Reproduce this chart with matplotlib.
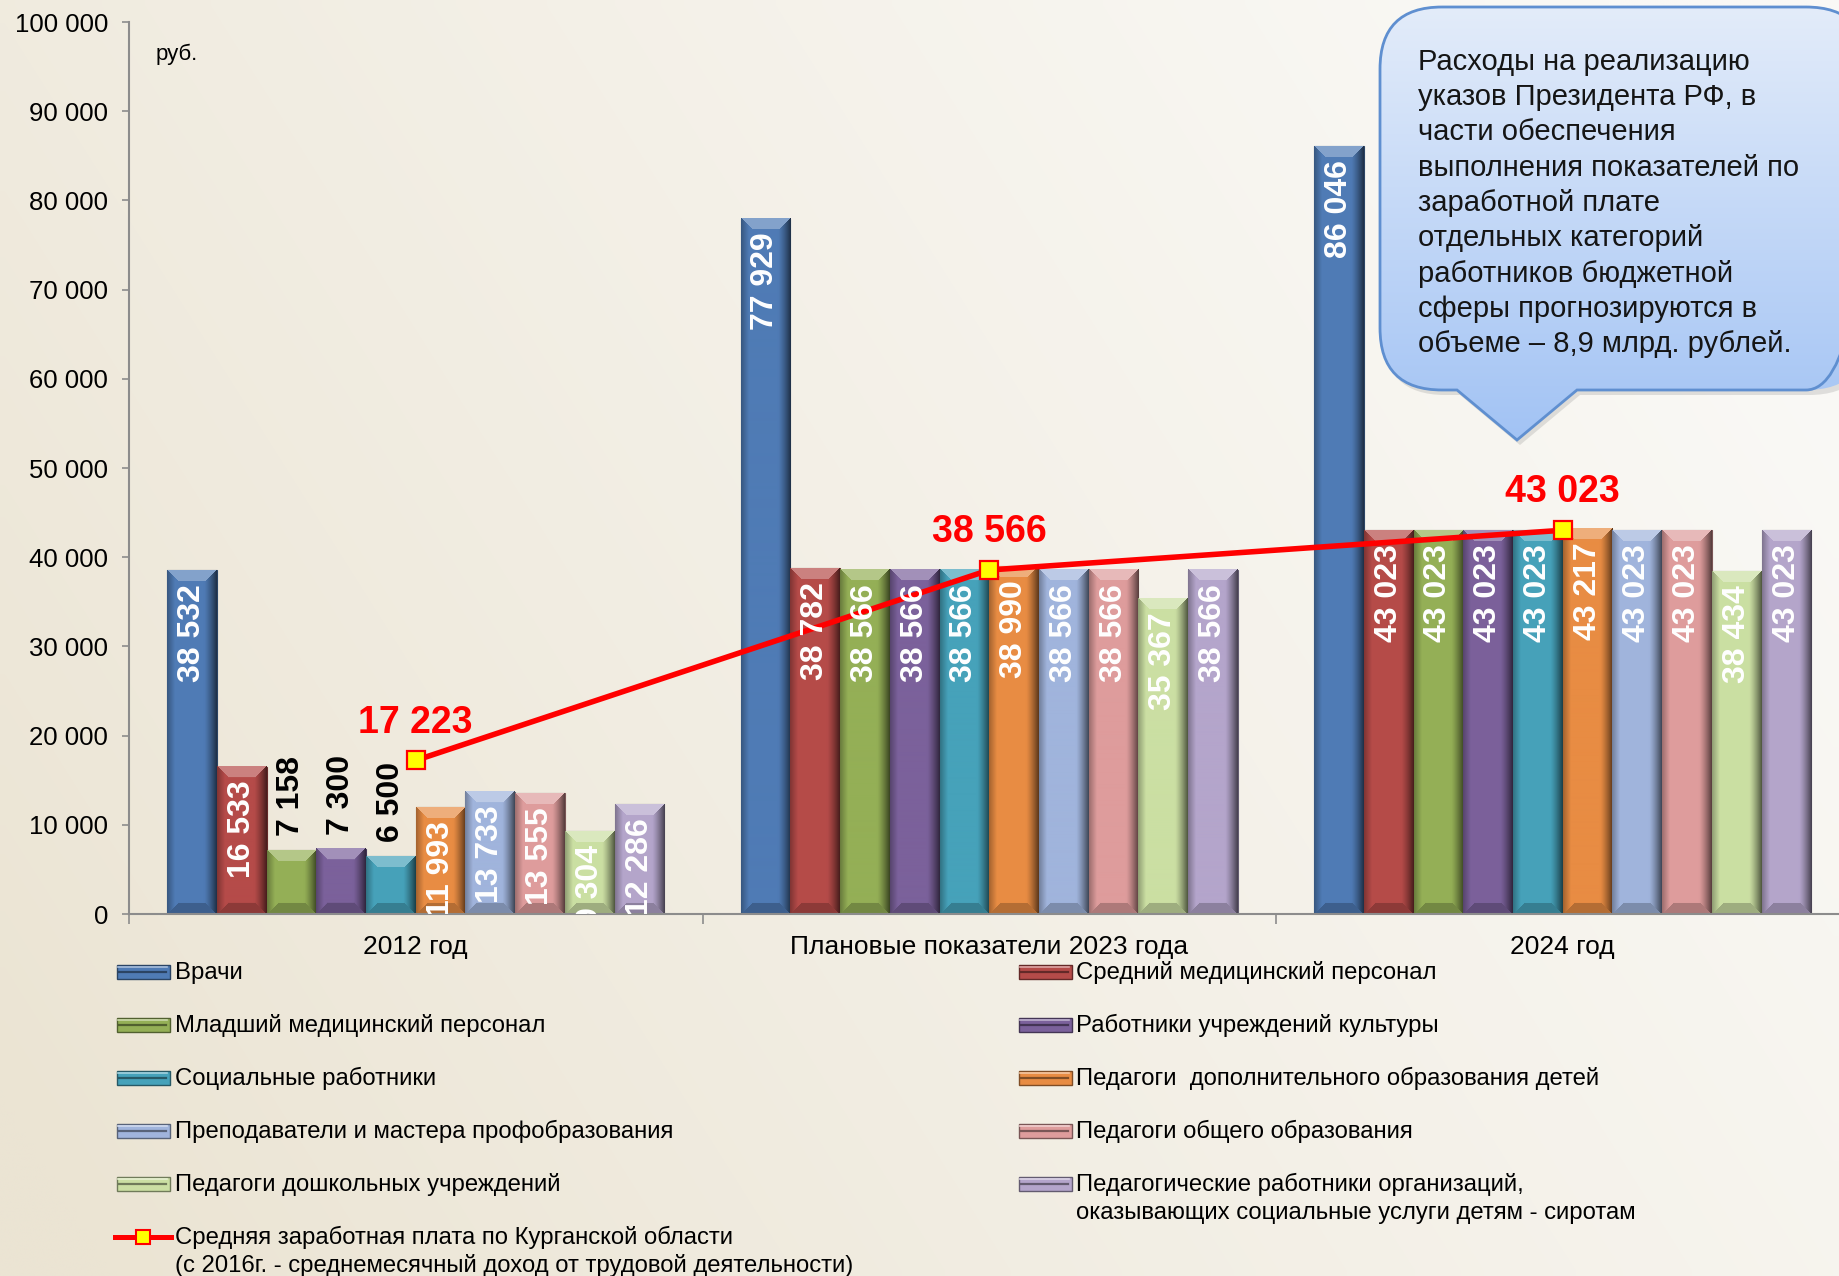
import numpy as np
import matplotlib
matplotlib.use('Agg')
import matplotlib.pyplot as plt
import matplotlib.colors as mcolors
import matplotlib.ticker as mticker
from matplotlib.patches import Rectangle, PathPatch
from matplotlib.path import Path
from matplotlib.lines import Line2D

plt.rcParams['font.family'] = ['Liberation Sans', 'DejaVu Sans']

# ---------------- data ----------------
groups = ['2012 год', 'Плановые показатели 2023 года', '2024 год']
series_names = [
    'Врачи',
    'Средний медицинский персонал',
    'Младший медицинский персонал',
    'Работники учреждений культуры',
    'Социальные работники',
    'Педагоги  дополнительного образования детей',
    'Преподаватели и мастера профобразования',
    'Педагоги общего образования',
    'Педагоги дошкольных учреждений',
    'Педагогические работники организаций,\nоказывающих социальные услуги детям - сиротам',
]
series_colors = ['#4F7BB5', '#B54B49', '#94AF56', '#7B619B', '#46A2BA',
                 '#E88C43', '#A0B4DC', '#DE9C9C', '#CBDFA3', '#B4A5CB']
values_2012 = [38532, 16533, 7158, 7300, 6500, 11993, 13733, 13555, 9304, 12286]
values_2023 = [77929, 38782, 38566, 38566, 38566, 38990, 38566, 38566, 35367, 38566]
values_2024 = [86046, 43023, 43023, 43023, 43023, 43217, 43023, 43023, 38434, 43023]
avg_salary = [17223, 38566, 43023]
avg_name = ('Средняя заработная плата по Курганской области\n'
            '(с 2016г. - среднемесячный доход от трудовой деятельности)')
outside_2012 = [2, 3, 4]          # series whose 2012 label sits above the bar
y_ticks = list(range(0, 100001, 10000))
unit_label = 'руб.'
callout_lines = [
    'Расходы на реализацию',
    'указов Президента РФ, в',
    'части обеспечения',
    'выполнения показателей по',
    'заработной плате',
    'отдельных категорий',
    'работников бюджетной',
    'сферы прогнозируются в',
    'объеме – 8,9 млрд. рублей.',
]

# ---------------- figure ----------------
W, H = 1839, 1276
fig = plt.figure(figsize=(W / 100, H / 100), dpi=100)

bg = fig.add_axes([0, 0, 1, 1], zorder=0)
gy, gx = np.mgrid[0:1:120j, 0:1:180j]
wgt = np.clip(0.8 * gx + 0.35 * (1 - gy) - 0.05, 0, 1) ** 0.9
c0 = np.array([235, 228, 211]) / 255
c1 = np.array([250, 249, 246]) / 255
bgimg = c0 * (1 - wgt[..., None]) + c1 * wgt[..., None]
bg.imshow(bgimg, extent=(0, W, H, 0), aspect='auto', interpolation='bilinear', zorder=0)
bg.set_xlim(0, W)
bg.set_ylim(H, 0)
bg.axis('off')

# main axes
AX_L, AX_B, AX_W, AX_H = 129, 362, 1720.5, 892
ax = fig.add_axes([AX_L / W, AX_B / H, AX_W / W, AX_H / H], zorder=2)
ax.patch.set_alpha(0)

n = len(series_names)
bw = 0.867 / n
x = np.arange(len(groups))
vals = np.array([values_2012, values_2023, values_2024])  # (groups, series)
PX_X = AX_W / 3.0
PX_Y = AX_H / 100000.0


def shade_bar(rect, color):
    x0, w, h = rect.get_x(), rect.get_width(), rect.get_height()
    if h <= 0:
        return
    wpx, hpx = w * PX_X, h * PX_Y
    cols = max(int(round(wpx)), 2)
    rows = max(int(round(hpx)), 2)
    U, V = np.meshgrid((np.arange(cols) + 0.5) * wpx / cols,
                       (np.arange(rows) + 0.5) * hpx / rows)
    base = np.array(mcolors.to_rgb(color))
    fu = U / wpx
    dark = np.where(fu < 0.16, 0.30 * (1 - fu / 0.16), 0.0)
    dark = dark + np.where(fu > 0.74, 0.62 * ((fu - 0.74) / 0.26) ** 1.3, 0.0)
    img = base[None, None, :] * (1 - dark[..., None])
    b = 11
    top = (V < b) & (U > V) & (wpx - U > V)
    img[top] = base + (1 - base) * 0.30
    bot = ((hpx - V) < b) & (U > (hpx - V)) & ((wpx - U) > (hpx - V))
    img[bot] = base * 0.78
    ax.imshow(img, extent=(x0, x0 + w, 0, h), origin='upper', aspect='auto',
              interpolation='bilinear', zorder=2.2)


def fmt(v):
    return f'{int(v):,}'.replace(',', ' ')


for i in range(n):
    offs = (i - (n - 1) / 2) * bw
    col = series_colors[i]
    edge = tuple(np.array(mcolors.to_rgb(col)) * 0.55)
    bars = ax.bar(x + offs, vals[:, i], width=bw, color=col, edgecolor=edge,
                  linewidth=0.8, zorder=2)
    for g, rect in enumerate(bars):
        shade_bar(rect, col)
        v = vals[g, i]
        xc = rect.get_x() + rect.get_width() / 2
        if g == 0 and i in outside_2012:
            ax.annotate(fmt(v), (xc, v), xytext=(0, 10), textcoords='offset points',
                        rotation=90, ha='center', va='bottom', color='black',
                        fontsize=23, fontweight='bold', zorder=6)
        else:
            ax.annotate(fmt(v), (xc, v), xytext=(0, -10), textcoords='offset points',
                        rotation=90, ha='center', va='top', color='white',
                        fontsize=23, fontweight='bold', zorder=6,
                        clip_on=True, annotation_clip=False)

ax.plot(x, avg_salary, color='#FF0000', lw=4.0, marker='s', ms=12.5,
        mfc='#FFFF00', mec='#FF0000', mew=1.6, zorder=5, solid_capstyle='butt')
for xi, v in zip(x, avg_salary):
    ax.annotate(fmt(v), (xi, v), xytext=(0, 20), textcoords='offset points',
                ha='center', va='baseline', color='#FF0000', fontsize=27,
                fontweight='bold', zorder=7)

ax.set_xlim(-0.5, 2.5)
ax.set_ylim(0, 100000)
ax.set_aspect('auto')
for s in ['top', 'right']:
    ax.spines[s].set_visible(False)
for s in ['left', 'bottom']:
    ax.spines[s].set_color('#8c8c8c')
    ax.spines[s].set_linewidth(1.5)
ax.set_yticks(y_ticks)
ax.yaxis.set_major_formatter(mticker.FuncFormatter(lambda v, p: fmt(v)))
ax.tick_params(axis='y', length=5, width=1.2, color='#8c8c8c', pad=10,
               labelsize=18.5, labelcolor='black')
ax.set_xticks(x)
ax.set_xticklabels(groups)
ax.set_xticks([-0.5, 0.5, 1.5, 2.5], minor=True)
ax.tick_params(axis='x', which='major', length=0, pad=15, labelsize=19)
ax.tick_params(axis='x', which='minor', length=7, width=1.2, color='#8c8c8c')

bg.text(156, 54, unit_label, fontsize=16, ha='left', va='center', color='black')

# ---------------- callout ----------------
L, T, R, B, r = 1380, 7, 1868, 390, 62
tip = (1517, 440)
pb0, pb1 = 1457, 1577
verts = [(L + r, T), (R - r, T), (R, T), (R, T + r), (R, B - r), (R, B), (R - r, B),
         (pb1, B), tip, (pb0, B), (L + r, B), (L, B), (L, B - r), (L, T + r), (L, T),
         (L + r, T), (L + r, T)]
codes = [Path.MOVETO, Path.LINETO, Path.CURVE3, Path.CURVE3, Path.LINETO, Path.CURVE3,
         Path.CURVE3, Path.LINETO, Path.LINETO, Path.LINETO, Path.LINETO, Path.CURVE3,
         Path.CURVE3, Path.LINETO, Path.CURVE3, Path.CURVE3, Path.CLOSEPOLY]
cpath = Path(verts, codes)
shadow = PathPatch(cpath.transformed(matplotlib.transforms.Affine2D().translate(3, 5)),
                   facecolor='#7f7f7f', edgecolor='none', alpha=0.22, zorder=1)
bg.add_patch(shadow)
cpatch = PathPatch(cpath, facecolor='none', edgecolor='#5F8FD0', lw=2, zorder=3)
bg.add_patch(cpatch)
gt = np.linspace(0, 1, 200)[:, None]
ctop = np.array(mcolors.to_rgb('#E3ECFA'))
cbot = np.array(mcolors.to_rgb('#A2C3F4'))
cimg = ctop * (1 - gt[..., None]) + cbot * gt[..., None]
cimg = np.repeat(cimg, 2, axis=1)
im = bg.imshow(cimg, extent=(L, R, tip[1], T), origin='upper', aspect='auto',
               interpolation='bilinear', zorder=2)
im.set_clip_path(cpatch)
for k, line in enumerate(callout_lines):
    bg.text(1418, 70 + k * 35.25, line, fontsize=21, ha='left', va='baseline',
            color='#151515', zorder=4)
bg.set_xlim(0, W)
bg.set_ylim(H, 0)

# ---------------- legend (manual, two columns, row-major order) ----------------
row_y = [972, 1025, 1078, 1131, 1184, 1237]
col_hx = [117, 1019]
col_tx = [175, 1076]
hw, hh = 53, 14
entries = list(zip(series_names, series_colors)) + [(avg_name, None)]
for idx, (name, col) in enumerate(entries):
    c = idx % 2
    rrow = idx // 2
    yc = row_y[rrow]
    hx = col_hx[c]
    if col is not None:
        dk = tuple(np.array(mcolors.to_rgb(col)) * 0.55)
        bg.add_patch(Rectangle((hx, yc - hh / 2), hw, hh, facecolor=col,
                               edgecolor=dk, lw=1, zorder=3))
        bg.add_line(Line2D([hx + 2, hx + hw - 4], [yc, yc], color=dk, lw=1.6, zorder=4))
        bg.add_line(Line2D([hx + 1, hx + hw - 3], [yc - hh / 2 + 2, yc - hh / 2 + 2],
                           color=tuple(np.array(mcolors.to_rgb(col)) * 0.5 + 0.5),
                           lw=1.2, zorder=4))
    else:
        bg.add_line(Line2D([hx - 2, hx + hw + 1], [yc, yc], color='#FF0000', lw=3.6, zorder=3))
        bg.add_line(Line2D([hx + 26.5], [yc], color='#FF0000', marker='s', ms=10,
                           mfc='#FFFF00', mec='#FF0000', mew=1.5, zorder=4))
    for j, part in enumerate(name.split('\n')):
        bg.text(col_tx[c], yc + 7 + j * 28, part, fontsize=17.2, ha='left',
                va='baseline', color='black', zorder=4)

fig.savefig('out.png', dpi=100)
